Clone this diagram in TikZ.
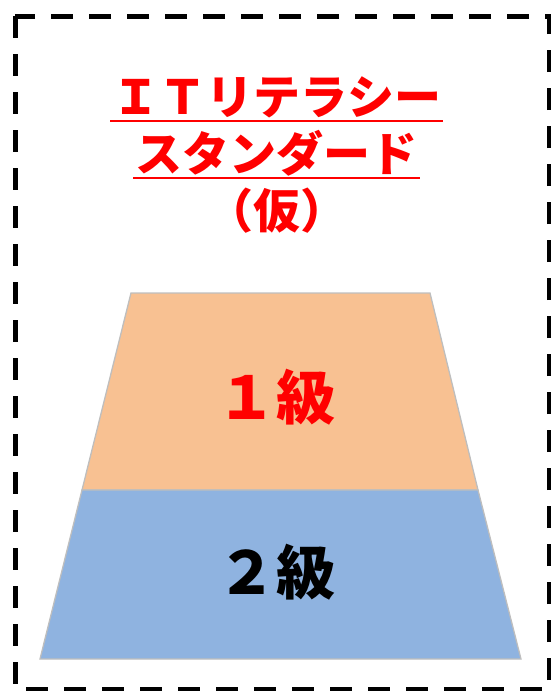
\documentclass[tikz,border=0pt]{standalone}
\usepackage{fontspec}
\newfontfamily\jp{Noto Sans CJK JP}
\definecolor{tieror}{RGB}{248,193,146}
\definecolor{tierbl}{RGB}{143,179,224}
\definecolor{tieredge}{RGB}{190,190,190}
\definecolor{titlered}{RGB}{255,0,0}
\tikzset{
  titletext/.style={font=\jp\bfseries\fontsize{47}{52}\selectfont, text=titlered, inner sep=0pt, anchor=base},
  leveltext/.style={font=\jp\bfseries\fontsize{59}{63}\selectfont, inner sep=0pt},
  tier/.style={draw=tieredge, line width=1.3pt},
  frame/.style={draw=black, line width=5pt, dash pattern=on 22pt off 16pt},
  uline/.style={draw=titlered, line width=2pt}
}
\begin{document}
\begin{tikzpicture}[x=1pt,y=-1pt]
\useasboundingbox (0,0) rectangle (550,691);
\draw[frame] (15,16) rectangle (549,689);
% tiers
\coordinate (t1) at (131,293);
\coordinate (t2) at (430,293);
\coordinate (m1) at (82,490);
\coordinate (m2) at (478,490);
\coordinate (b1) at (40,659);
\coordinate (b2) at (521,659);
\filldraw[tier, fill=tieror] (t1) -- (t2) -- (m2) -- (m1) -- cycle;
\filldraw[tier, fill=tierbl] (m1) -- (m2) -- (b2) -- (b1) -- cycle;
\node[leveltext, text=titlered] (lv1) at (276,397) {１級};
\node[leveltext, text=black] (lv2) at (276,572) {２級};
% title
\node[titletext] (ta) at (277,114) {ＩＴリテラシー};
\node[titletext] (tb) at (276,171) {スタンダード};
\node[titletext] (tc) at (277,228) {（仮）};
\coordinate (ua1) at (110,121);
\coordinate (ua2) at (443,121);
\coordinate (ub1) at (133,178);
\coordinate (ub2) at (420,178);
\draw[uline] (ua1) -- (ua2);
\draw[uline] (ub1) -- (ub2);
\end{tikzpicture}
\end{document}
